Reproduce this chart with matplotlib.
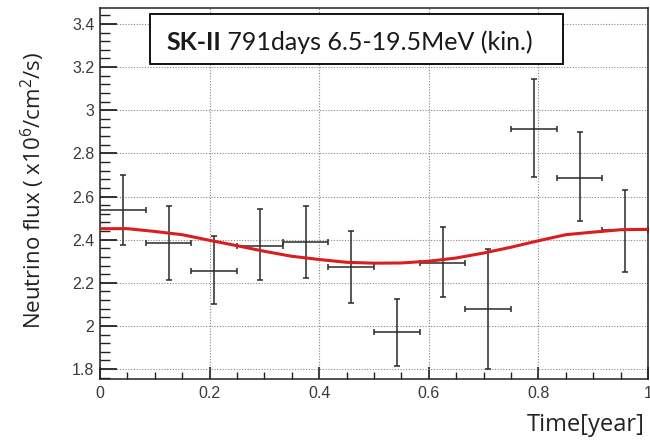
import matplotlib
matplotlib.use('Agg')
import matplotlib.pyplot as plt
from matplotlib.ticker import MultipleLocator, FormatStrFormatter
from matplotlib.patches import Rectangle

plt.rcParams['mathtext.fontset'] = 'custom'
plt.rcParams['mathtext.rm'] = 'Open Sans'
plt.rcParams['mathtext.it'] = 'Open Sans'

# data: 12 time bins over one year
t_bin = [0.0417, 0.125, 0.2083, 0.2917, 0.375, 0.4583,
         0.5417, 0.625, 0.7083, 0.7917, 0.875, 0.9583]
t_halfwidth = [0.0417] * 12
flux = [2.538, 2.385, 2.257, 2.372, 2.389, 2.274,
        1.972, 2.294, 2.080, 2.915, 2.688, 2.446]
flux_hi = [2.700, 2.554, 2.418, 2.543, 2.554, 2.438,
           2.126, 2.458, 2.357, 3.144, 2.897, 2.630]
flux_lo = [2.377, 2.212, 2.100, 2.212, 2.220, 2.105,
           1.815, 2.135, 1.800, 2.692, 2.485, 2.249]

# red expectation curve, read at 0.05 year steps
t_curve = [0.0, 0.05, 0.1, 0.15, 0.2, 0.25, 0.3, 0.35, 0.4, 0.45, 0.5,
           0.55, 0.6, 0.65, 0.7, 0.75, 0.8, 0.85, 0.9, 0.95, 1.0]
flux_curve = [2.451, 2.451, 2.438, 2.423, 2.397, 2.372, 2.346, 2.323, 2.308,
              2.295, 2.291, 2.292, 2.300, 2.315, 2.338, 2.365, 2.395, 2.423,
              2.435, 2.446, 2.448]

err_up = [h - f for h, f in zip(flux_hi, flux)]
err_dn = [f - l for f, l in zip(flux, flux_lo)]

fig = plt.figure(figsize=(6.5, 4.42), dpi=100)
ax = fig.add_axes([100/650, 1 - 379/442, 548/650, 371/442])

ax.errorbar(t_bin, flux, yerr=[err_dn, err_up], xerr=t_halfwidth,
            fmt='none', ecolor='#2a2a2a', elinewidth=1.1, capsize=2.2,
            capthick=1.1, zorder=3)
ax.plot(t_curve, flux_curve, color='#d81e1e', lw=2.2, zorder=4)

ax.set_xlim(0, 1)
ax.set_ylim(1.754, 3.474)
ax.xaxis.set_major_locator(MultipleLocator(0.2))
ax.xaxis.set_minor_locator(MultipleLocator(0.05))
ax.yaxis.set_major_locator(MultipleLocator(0.2))
ax.yaxis.set_minor_locator(MultipleLocator(0.04))
ax.xaxis.set_major_formatter(FormatStrFormatter('%g'))
ax.yaxis.set_major_formatter(FormatStrFormatter('%g'))
ax.tick_params(which='both', direction='in', top=False, right=False,
               labelsize=11.5, labelcolor='#3a3a3a', color='#222222')
ax.tick_params(axis='y', which='major', length=12, width=1.3, pad=4)
ax.tick_params(axis='y', which='minor', length=7, width=1)
ax.tick_params(axis='x', which='major', length=9, width=1.2, pad=5)
ax.tick_params(axis='x', which='minor', length=5, width=1)
for lab in ax.get_xticklabels() + ax.get_yticklabels():
    lab.set_family('Liberation Sans')
ax.grid(True, which='major', linestyle=(0, (1, 1.5)), color='#888888', lw=0.8)
for s in ax.spines.values():
    s.set_linewidth(1.1)
    s.set_color('#222222')

# title box
ax.add_patch(Rectangle(((150 - 100)/548, 1 - (64 - 8)/371),
                       (563 - 150)/548, (64 - 14)/371,
                       transform=ax.transAxes, facecolor='white',
                       edgecolor='black', lw=1.3, zorder=5))
t1 = ax.text((166 - 100)/548, 1 - (50 - 8)/371, 'SK-II', transform=ax.transAxes,
             fontsize=18, fontweight='bold', family='Lato', va='baseline',
             color='#1a1a1a', zorder=6)
ax.annotate(' 791days 6.5-19.5MeV (kin.)', xy=(1, 0), xycoords=t1,
            fontsize=18, family='Lato', va='bottom', color='#1a1a1a', zorder=6)

fig.text(33/650, 1 - 190/442, 'Neutrino flux ( x10$^{6}$/cm$^{2}$/s)',
         rotation=90, ha='center', va='center', fontsize=16, family='Open Sans',
         color='#222222')
fig.text(645/650, 1 - 425/442, 'Time[year]', ha='right', va='center',
         fontsize=17, family='Open Sans', color='#222222')

fig.savefig('out.png', dpi=100)
